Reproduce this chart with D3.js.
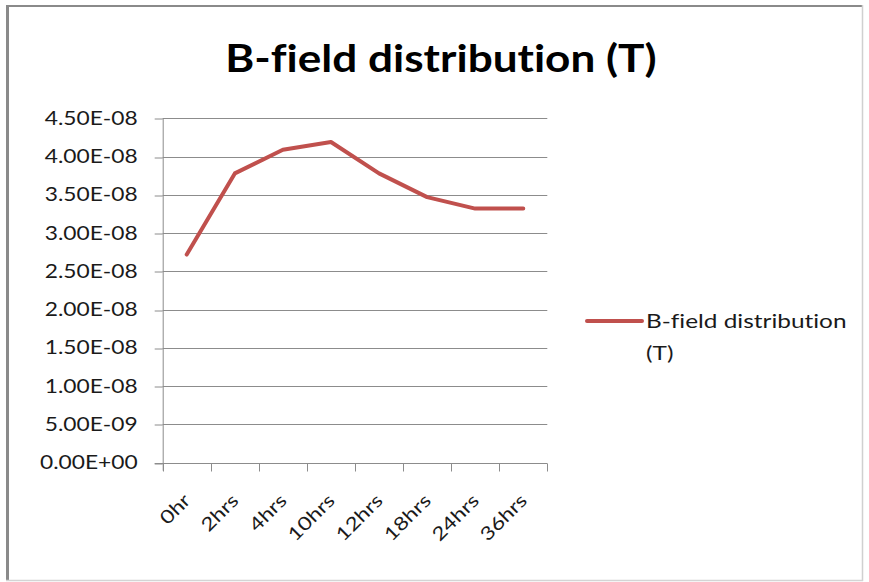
<!DOCTYPE html>
<html>
<head>
<meta charset="utf-8">
<script src="https://cdn.jsdelivr.net/npm/d3@7"></script>
<style>
  html, body { margin: 0; padding: 0; background: #fff; }
  svg { display: block; }
  text { font-variant-ligatures: none; }
</style>
</head>
<body>
<svg id="chart" width="869" height="582"></svg>
<script>
// Measured B-field (tesla) over elapsed time
const categories = ["0hr", "2hrs", "4hrs", "10hrs", "12hrs", "18hrs", "24hrs", "36hrs"];
const bField = [2.72e-8, 3.78e-8, 4.09e-8, 4.19e-8, 3.78e-8, 3.47e-8, 3.32e-8, 3.32e-8];
const yTicks = [0, 5e-9, 1e-8, 1.5e-8, 2e-8, 2.5e-8, 3e-8, 3.5e-8, 4e-8, 4.5e-8];
const seriesName = "B-field distribution (T)";
const titleText = "B-field distribution (T)";

const W = 869, H = 582;
const plot = { left: 162.7, right: 547.3, top: 118.3, bottom: 462.7 };
const lineColor = "#C0504D";
const gridColor = "#8c8c8c";
const textColor = "#1a1a1a";
const labelFont = "Lato, 'Open Sans', sans-serif";

const svg = d3.select("#chart");

// Widen glyphs horizontally to get the broad Office-style lettering
function stretch(sel, k) {
  sel.each(function () {
    const len = this.getComputedTextLength();
    d3.select(this).attr("textLength", len * k).attr("lengthAdjust", "spacingAndGlyphs");
  });
}

// Chart frame: darker left/top edge, lighter right/bottom edge
svg.append("rect").attr("x", 0).attr("y", 0).attr("width", W).attr("height", H).attr("fill", "#fff");
svg.append("line").attr("x1", 7.5).attr("x2", 7.5).attr("y1", 5.5).attr("y2", 581)
  .attr("stroke", "#8a8a8a").attr("stroke-width", 3);
svg.append("line").attr("x1", 6).attr("x2", 863).attr("y1", 6).attr("y2", 6)
  .attr("stroke", "#8a8a8a").attr("stroke-width", 2);
svg.append("line").attr("x1", 862.5).attr("x2", 862.5).attr("y1", 5).attr("y2", 581)
  .attr("stroke", "#d0d0d0").attr("stroke-width", 1.5);
svg.append("line").attr("x1", 6).attr("x2", 863).attr("y1", 580.5).attr("y2", 580.5)
  .attr("stroke", "#d4d4d4").attr("stroke-width", 1.5);

// Title
svg.append("text")
  .attr("x", 441).attr("y", 71.5)
  .attr("text-anchor", "middle")
  .attr("font-family", labelFont)
  .attr("font-weight", "bold")
  .attr("font-size", 38)
  .attr("fill", "#000")
  .text(titleText)
  .call(stretch, 1.16);

// Scales
const x = d3.scaleBand().domain(categories).range([plot.left, plot.right]).paddingInner(0).paddingOuter(0);
const y = d3.scaleLinear().domain([0, 4.5e-8]).range([plot.bottom, plot.top]);

// Excel-like scientific notation: 4.50E-08
function sci(v) {
  const s = d3.format(".2e")(v);
  const [m, e] = s.split("e");
  const sign = e[0] === "-" ? "-" : "+";
  const digits = e.replace(/^[+-]/, "").padStart(2, "0");
  return m + "E" + sign + digits;
}

// Horizontal gridlines
svg.append("g").selectAll("line").data(yTicks.filter(d => d > 0)).join("line")
  .attr("x1", plot.left).attr("x2", plot.right)
  .attr("y1", d => Math.round(y(d)) + 0.5).attr("y2", d => Math.round(y(d)) + 0.5)
  .attr("stroke", gridColor).attr("stroke-width", 1);

// Y axis
const yAxis = d3.axisLeft(y).tickValues(yTicks).tickFormat(sci).tickSize(8).tickPadding(17);
const gy = svg.append("g").attr("transform", `translate(${plot.left},0)`).call(yAxis);
gy.select(".domain").remove();
gy.selectAll(".tick line").attr("stroke", gridColor)
  .attr("transform", d => `translate(0,${Math.round(y(d)) + 0.5 - y(d)})`);
gy.selectAll(".tick text").attr("font-family", labelFont).attr("font-size", 18.5).attr("fill", textColor)
  .call(stretch, 1.23);
svg.append("line").attr("x1", plot.left + 0.5).attr("x2", plot.left + 0.5)
  .attr("y1", plot.top).attr("y2", plot.bottom + 8)
  .attr("stroke", gridColor).attr("stroke-width", 1);

// X axis baseline and tick marks at category boundaries
const xb = Math.round(plot.bottom) + 0.5;
svg.append("line").attr("x1", plot.left - 8).attr("x2", plot.right)
  .attr("y1", xb).attr("y2", xb).attr("stroke", gridColor);
const edges = categories.map(c => x(c)).concat([x(categories[categories.length - 1]) + x.bandwidth()]);
svg.append("g").selectAll("line").data(edges).join("line")
  .attr("x1", d => Math.round(d) + 0.5).attr("x2", d => Math.round(d) + 0.5)
  .attr("y1", xb).attr("y2", xb + 8)
  .attr("stroke", gridColor);

// Rotated category labels
svg.append("g").selectAll("text").data(categories).join("text")
  .attr("transform", d => `translate(${x(d) + x.bandwidth() / 2 + 5},${plot.bottom + 39}) rotate(-45)`)
  .attr("text-anchor", "end")
  .attr("font-family", labelFont).attr("font-size", 18.5).attr("fill", textColor)
  .text(d => d)
  .call(stretch, 1.23);

// Data line
const line = d3.line()
  .x((d, i) => x(categories[i]) + x.bandwidth() / 2)
  .y(d => y(d));
svg.append("path").datum(bField)
  .attr("d", line)
  .attr("fill", "none")
  .attr("stroke", lineColor)
  .attr("stroke-width", 4)
  .attr("stroke-linejoin", "round")
  .attr("stroke-linecap", "round");

// Legend
const lg = svg.append("g").attr("transform", "translate(587,321)");
lg.append("line").attr("x1", 0).attr("x2", 55).attr("y1", 0).attr("y2", 0)
  .attr("stroke", lineColor).attr("stroke-width", 4).attr("stroke-linecap", "round");
const words = seriesName.split(" ");
const legendLines = [words.slice(0, 2).join(" "), words.slice(2).join(" ")];
lg.append("text")
  .attr("font-family", labelFont).attr("font-size", 19.5).attr("fill", textColor)
  .selectAll("tspan").data(legendLines).join("tspan")
  .attr("x", 59).attr("y", (d, i) => 7 + i * 32)
  .text(d => d)
  .call(stretch, 1.25);
</script>
</body>
</html>
